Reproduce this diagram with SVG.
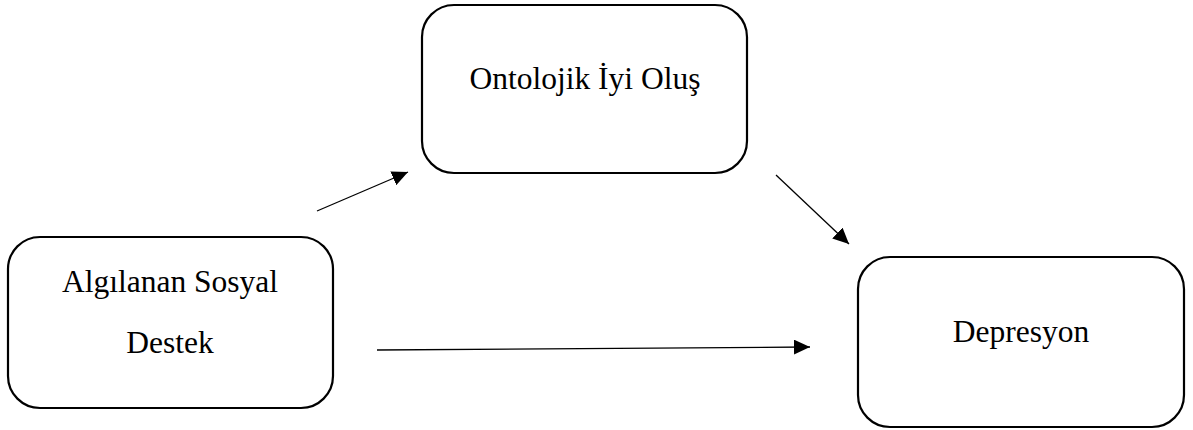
<svg xmlns="http://www.w3.org/2000/svg" width="1193" height="430" viewBox="0 0 1193 430">
<style>
.box{fill:#fff;stroke:#000;stroke-width:2.2}
.lbl{font-family:"Liberation Serif","Times New Roman",serif;font-size:31.5px;fill:#000;text-anchor:middle}
.conn{stroke:#000;stroke-width:1.3;fill:none}
</style>
<defs>
<marker id="ah" viewBox="0 0 16 15" refX="16" refY="7.5" markerWidth="16" markerHeight="15" markerUnits="userSpaceOnUse" orient="auto">
<path d="M0,0 L16,7.5 L0,15 Z" fill="#000"/>
</marker>
</defs>
<rect width="1193" height="430" fill="#fff"/>
<g id="node-algilanan">
<rect class="box" x="8" y="237" width="325" height="171" rx="32"/>
<text class="lbl" x="170" y="292">Algılanan Sosyal</text>
<text class="lbl" x="170" y="353">Destek</text>
</g>
<g id="node-ontolojik">
<rect class="box" x="422" y="5" width="325" height="168" rx="32"/>
<text class="lbl" x="585" y="89">Ontolojik İyi Oluş</text>
</g>
<g id="node-depresyon">
<rect class="box" x="858" y="257" width="326" height="170" rx="32"/>
<text class="lbl" x="1021" y="342">Depresyon</text>
</g>
<g id="connectors">
<line class="conn" x1="317" y1="211" x2="408" y2="172" marker-end="url(#ah)"/>
<line class="conn" x1="776" y1="175" x2="849" y2="244" marker-end="url(#ah)"/>
<line class="conn" x1="377" y1="350" x2="810" y2="347" marker-end="url(#ah)"/>
</g>
</svg>
